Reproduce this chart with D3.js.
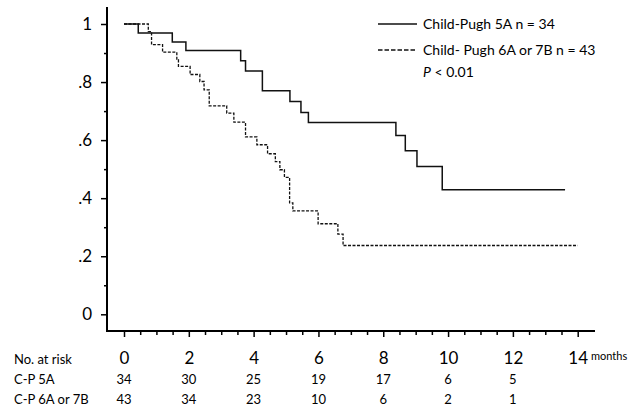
<!DOCTYPE html>
<html>
<head>
<meta charset="utf-8">
<script src="https://cdn.jsdelivr.net/npm/d3@7"></script>
<style>
  body { margin: 0; background: #fff; }
  svg { display: block; font-family: Lato, "Open Sans", sans-serif; }
</style>
</head>
<body>
<svg id="chart"></svg>
<script>
// survival steps (time in months, survival fraction)
let cp5aTimes = [0, 0.44, 1.49, 1.91, 3.60, 3.75, 4.27, 5.12, 5.46, 5.69, 8.39, 8.68, 9.04, 9.82, 13.61];
let cp5aSurv  = [1, 0.969, 0.938, 0.909, 0.873, 0.838, 0.770, 0.733, 0.695, 0.661, 0.616, 0.563, 0.509, 0.429, 0.429];

let cp6aTimes = [0, 0.75, 0.85, 1.19, 1.63, 1.68, 2.04, 2.34, 2.47, 2.63, 3.17, 3.39, 3.75, 4.10, 4.43, 4.67, 4.81, 4.95, 5.11, 5.21, 5.99, 6.60, 6.76, 14.0];
let cp6aSurv  = [1, 0.974, 0.929, 0.903, 0.877, 0.854, 0.826, 0.802, 0.773, 0.718, 0.693, 0.662, 0.611, 0.584, 0.553, 0.526, 0.498, 0.472, 0.384, 0.356, 0.312, 0.276, 0.237, 0.237];

let xTicks = [0, 2, 4, 6, 8, 10, 12, 14];
let yTicks = [0, 0.2, 0.4, 0.6, 0.8, 1];

let riskTimes = [0, 2, 4, 6, 8, 10, 12];
let riskCp5a  = [34, 30, 25, 19, 17, 6, 5];
let riskCp6a  = [43, 34, 23, 10, 6, 2, 1];

let legendLabels = ["Child-Pugh 5A n = 34", "Child- Pugh 6A or 7B n = 43"];

// svg specification
let width = 644;
let height = 408;
let axisX = 107;   // left axis line
let axisY = 331;   // bottom axis line

let svg = d3.select("#chart").attr("width", width).attr("height", height);

let x = d3.scaleLinear().domain([0, 14]).range([124, 577.7]);
let y = d3.scaleLinear().domain([0, 1]).range([314.3, 24]);

// axes ------------------------------------------------------------
function yFormat(d)
{
    if (d === 0) return "0";
    if (d === 1) return "1";
    return d3.format(".1f")(d).replace("0.", ".");
}

let yAxis = svg.append("g").attr("transform", `translate(${axisX},0)`);
yAxis.call(d3.axisLeft(y).tickValues(yTicks).tickFormat(yFormat).tickSize(6).tickPadding(9))
    .call(g => g.select(".domain").remove())
    .call(g => g.selectAll(".tick line").attr("stroke-width", 1.5))
    .call(g => g.selectAll(".tick text").attr("font-size", 17).attr("fill", "#000").attr("font-family", "Lato, sans-serif"));

let yMinor = svg.append("g").attr("transform", `translate(${axisX},0)`);
yMinor.call(d3.axisLeft(y).tickValues([0.1, 0.3, 0.5, 0.7, 0.9]).tickFormat("").tickSize(3))
    .call(g => g.select(".domain").remove())
    .call(g => g.selectAll(".tick line").attr("stroke-width", 1.5));

let xAxis = svg.append("g").attr("transform", `translate(0,${axisY})`);
xAxis.call(d3.axisBottom(x).tickValues(xTicks).tickFormat(d3.format("d")).tickSize(6).tickPadding(15))
    .call(g => g.select(".domain").remove())
    .call(g => g.selectAll(".tick line").attr("stroke-width", 1.5))
    .call(g => g.selectAll(".tick text").attr("font-size", 17).attr("fill", "#000").attr("font-family", "Lato, sans-serif"));

let xMinor = svg.append("g").attr("transform", `translate(0,${axisY})`);
xMinor.call(d3.axisBottom(x).tickValues(d3.range(0.5, 14, 1).concat(d3.range(1, 14, 2))).tickFormat("").tickSize(4))
    .call(g => g.select(".domain").remove())
    .call(g => g.selectAll(".tick line").attr("stroke-width", 1.5));

// axis lines
svg.append("line").attr("x1", axisX).attr("x2", axisX).attr("y1", 7).attr("y2", axisY + 1)
    .attr("stroke", "#000").attr("stroke-width", 2);
svg.append("line").attr("x1", axisX - 1).attr("x2", 595).attr("y1", axisY).attr("y2", axisY)
    .attr("stroke", "#000").attr("stroke-width", 2);

svg.append("text").attr("x", 591).attr("y", 356).attr("dy", "0.35em")
    .attr("font-size", 11).text("months");

// curves ----------------------------------------------------------
let line = d3.line()
    .x(d => x(d[0]))
    .y(d => y(d[1]))
    .curve(d3.curveStepAfter);

svg.append("path")
    .attr("d", line(d3.zip(cp5aTimes, cp5aSurv)))
    .attr("fill", "none").attr("stroke", "#111").attr("stroke-width", 1.5);

svg.append("path")
    .attr("d", line(d3.zip(cp6aTimes, cp6aSurv)))
    .attr("fill", "none").attr("stroke", "#111").attr("stroke-width", 1.3)
    .attr("stroke-dasharray", "3,1.5");

// legend ----------------------------------------------------------
let legend = svg.append("g");
legendLabels.forEach((label, i) => {
    let ly = 24 + i * 26;
    legend.append("line").attr("x1", 378).attr("x2", 417).attr("y1", ly).attr("y2", ly)
        .attr("stroke", "#111").attr("stroke-width", 1.3)
        .attr("stroke-dasharray", i === 0 ? null : "4.5,2");
    legend.append("text").attr("x", 423).attr("y", ly).attr("dy", "0.35em")
        .attr("font-size", 14).text(label);
});
let pText = legend.append("text").attr("x", 423).attr("y", 72).attr("dy", "0.35em").attr("font-size", 14);
pText.append("tspan").attr("font-style", "italic").text("P");
pText.append("tspan").text(" < 0.01");

// risk table ------------------------------------------------------
let risk = svg.append("g").attr("font-size", 13);
risk.append("text").attr("x", 14).attr("y", 359).attr("dy", "0.35em").text("No. at risk");
risk.append("text").attr("x", 14).attr("y", 379).attr("dy", "0.35em").text("C-P 5A");
risk.append("text").attr("x", 14).attr("y", 399).attr("dy", "0.35em").text("C-P 6A or 7B");

risk.selectAll(".r5a").data(riskTimes).join("text")
    .attr("class", "r5a")
    .attr("x", d => x(d)).attr("y", 379).attr("dy", "0.35em").attr("text-anchor", "middle")
    .text((d, i) => riskCp5a[i]);
risk.selectAll(".r6a").data(riskTimes).join("text")
    .attr("class", "r6a")
    .attr("x", d => x(d)).attr("y", 399).attr("dy", "0.35em").attr("text-anchor", "middle")
    .text((d, i) => riskCp6a[i]);
</script>
</body>
</html>
